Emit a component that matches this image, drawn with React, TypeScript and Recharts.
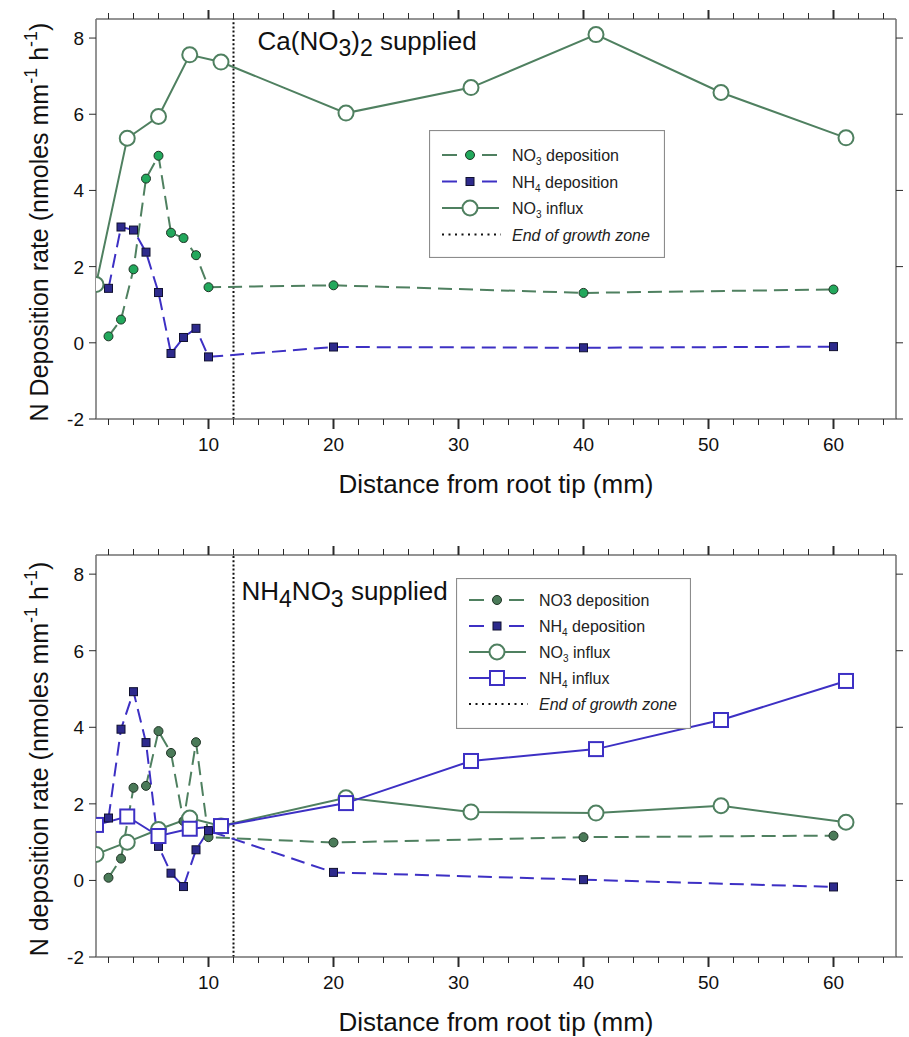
import React from 'react';
import { LineChart, Line, XAxis, YAxis, ReferenceLine, Legend } from 'recharts';

// ---------- data ----------
const depositionX = [2, 3, 4, 5, 6, 7, 8, 9, 10, 20, 40, 60];
const influxX = [1, 3.5, 6, 8.5, 11, 21, 31, 41, 51, 61];

// Panel A: Ca(NO3)2 supplied
const caNO3Deposition = [0.17, 0.61, 1.93, 4.31, 4.91, 2.89, 2.75, 2.3, 1.46, 1.51, 1.31, 1.4];
const caNH4Deposition = [1.43, 3.04, 2.96, 2.38, 1.32, -0.28, 0.14, 0.38, -0.37, -0.11, -0.13, -0.1];
const caNO3Influx = [1.53, 5.37, 5.94, 7.56, 7.37, 6.03, 6.7, 8.09, 6.57, 5.38];

// Panel B: NH4NO3 supplied
const anNO3Deposition = [0.07, 0.57, 2.42, 2.47, 3.9, 3.33, 1.55, 3.61, 1.13, 0.99, 1.13, 1.17];
const anNH4Deposition = [1.63, 3.95, 4.93, 3.6, 0.89, 0.19, -0.16, 0.8, 1.3, 0.21, 0.02, -0.17];
const anNO3Influx = [0.68, 1.0, 1.33, 1.63, 1.42, 2.16, 1.79, 1.76, 1.95, 1.52];
const anNH4Influx = [1.45, 1.67, 1.16, 1.35, 1.42, 2.02, 3.12, 3.43, 4.19, 5.21];

const growthZoneEnd = 12;
const xDomain = [1, 65];
const yDomain = [-2, 8.5];
const xTicks = [2, 4, 6, 8, 10, 12, 14, 16, 18, 20, 22, 24, 26, 28, 30, 32, 34, 36, 38, 40, 42, 44, 46, 48, 50, 52, 54, 56, 58, 60, 62, 64];
const xMajorTicks = [10, 20, 30, 40, 50, 60];
const yTicks = [-2, 0, 2, 4, 6, 8];

const xTitle = 'Distance from root tip (mm)';
const topYTitle = 'N Deposition rate (nmoles mm';
const bottomYTitle = 'N deposition rate (nmoles mm';

const topLegendLabels = [
  ['NO', '3', ' deposition'],
  ['NH', '4', ' deposition'],
  ['NO', '3', ' influx'],
  ['End of growth zone', '', ''],
];
const bottomLegendLabels = [
  ['NO3 deposition', '', ''],
  ['NH', '4', ' deposition'],
  ['NO', '3', ' influx'],
  ['NH', '4', ' influx'],
  ['End of growth zone', '', ''],
];

const toPoints = (xs: number[], ys: number[]) => xs.map((x, i) => ({ x, y: ys[i] }));

// ---------- styles ----------
const FONT = '"Liberation Sans", Arial, Helvetica, sans-serif';
const AXIS = '#707070';
const TICK = '#2a2a2a';
const GREEN = '#4f8060';
const BLUE = '#3d30c4';
const BLUE_FILL = '#2d2a8c';
const DASH = '14 7';

// ---------- ticks ----------
const BottomTick = (props: any) => {
  const { x, y, payload } = props;
  const major = xMajorTicks.includes(payload.value);
  return (
    <g>
      <line x1={x} x2={x} y1={y} y2={y + (major ? 10 : 6)} stroke={TICK} strokeWidth={major ? 2 : 1} />
      {major && (
        <text x={x} y={y + 32} textAnchor="middle" fontSize={19} fontFamily={FONT} fill="#111">
          {payload.value}
        </text>
      )}
    </g>
  );
};
const TopTick = (props: any) => {
  const { x, y, payload } = props;
  const major = xMajorTicks.includes(payload.value);
  return <line x1={x} x2={x} y1={y} y2={y - (major ? 9 : 6)} stroke={TICK} strokeWidth={major ? 2 : 1} />;
};
const LeftTick = (props: any) => {
  const { x, y, payload } = props;
  return (
    <g>
      <line x1={x - 7} x2={x} y1={y} y2={y} stroke={TICK} strokeWidth={1} />
      <text x={x - 12} y={y + 7} textAnchor="end" fontSize={19} fontFamily={FONT} fill="#111">
        {payload.value}
      </text>
    </g>
  );
};
const RightTick = (props: any) => {
  const { x, y } = props;
  return <line x1={x} x2={x + 7} y1={y} y2={y} stroke={TICK} strokeWidth={1} />;
};

// ---------- dots ----------
const circleDot = (fill: string, stroke: string, r: number, sw: number) => (props: any) => {
  const { cx, cy, index } = props;
  if (cx == null || cy == null) return <g key={index} />;
  return <circle key={index} cx={cx} cy={cy} r={r} fill={fill} stroke={stroke} strokeWidth={sw} />;
};
const squareDot = (fill: string, stroke: string, s: number, sw: number) => (props: any) => {
  const { cx, cy, index } = props;
  if (cx == null || cy == null) return <g key={index} />;
  return <rect key={index} x={cx - s / 2} y={cy - s / 2} width={s} height={s} fill={fill} stroke={stroke} strokeWidth={sw} />;
};

// ---------- labels ----------
const XTitle = (props: any) => {
  const { viewBox } = props;
  return (
    <text x={viewBox.x + viewBox.width / 2} y={viewBox.y + 74} textAnchor="middle" fontSize={26} fontFamily={FONT} fill="#111">
      {xTitle}
    </text>
  );
};
const makeYTitle = (main: string) => (props: any) => {
  const { viewBox } = props;
  const cx = 48;
  const cy = viewBox.y + viewBox.height / 2 + 3;
  return (
    <text x={cx} y={cy} transform={`rotate(-90 ${cx} ${cy})`} textAnchor="middle" fontSize={25} fontFamily={FONT} fill="#111">
      {main}
      <tspan fontSize={18} dy={-11}>-1</tspan>
      <tspan dy={11}> h</tspan>
      <tspan fontSize={18} dy={-11}>-1</tspan>
      <tspan dy={11}>)</tspan>
    </text>
  );
};
const TopPanelTitle = (props: any) => {
  const { viewBox } = props;
  return (
    <text x={viewBox.x + 24} y={viewBox.y + 31} fontSize={26} fontFamily={FONT} fill="#111">
      Ca(NO<tspan fontSize={23} dy={6}>3</tspan>
      <tspan dy={-6}>)</tspan>
      <tspan fontSize={23} dy={6}>2</tspan>
      <tspan dy={-6}> supplied</tspan>
    </text>
  );
};
const BottomPanelTitle = (props: any) => {
  const { viewBox } = props;
  return (
    <text x={viewBox.x + 8} y={viewBox.y + 45} fontSize={26} fontFamily={FONT} fill="#111">
      NH<tspan fontSize={23} dy={7}>4</tspan>
      <tspan dy={-7}>NO</tspan>
      <tspan fontSize={23} dy={7}>3</tspan>
      <tspan dy={-7}> supplied</tspan>
    </text>
  );
};

// ---------- legend ----------
type SymbolKind = 'depCircle' | 'depSquare' | 'influxCircle' | 'influxSquare' | 'dotted';
const drawSymbol = (kind: SymbolKind, cy: number, depCircleFill: string) => {
  const cx = 41;
  if (kind === 'dotted') {
    return <line x1={13} x2={72} y1={cy} y2={cy} stroke="#111" strokeWidth={2} strokeDasharray="2 4.5" />;
  }
  if (kind === 'depCircle' || kind === 'depSquare') {
    const color = kind === 'depCircle' ? GREEN : BLUE;
    return (
      <g>
        <line x1={13} x2={28} y1={cy} y2={cy} stroke={color} strokeWidth={2} />
        <line x1={53} x2={68} y1={cy} y2={cy} stroke={color} strokeWidth={2} />
        {kind === 'depCircle' ? (
          <circle cx={cx} cy={cy} r={4.5} fill={depCircleFill} stroke="#1f3325" strokeWidth={1} />
        ) : (
          <rect x={cx - 4} y={cy - 4} width={8} height={8} fill={BLUE_FILL} stroke="#101030" strokeWidth={1} />
        )}
      </g>
    );
  }
  const color = kind === 'influxCircle' ? GREEN : BLUE;
  return (
    <g>
      <line x1={13} x2={70} y1={cy} y2={cy} stroke={color} strokeWidth={2} />
      {kind === 'influxCircle' ? (
        <circle cx={cx} cy={cy} r={7.5} fill="#fff" stroke={color} strokeWidth={2} />
      ) : (
        <rect x={cx - 7} y={cy - 7} width={14} height={14} fill="#fff" stroke={color} strokeWidth={2} />
      )}
    </g>
  );
};

const makeLegend = (labels: string[][], kinds: SymbolKind[], w: number, h: number, firstRow: number, gap: number, depFill: string) => () => (
  <svg width={w} height={h} style={{ display: 'block' }}>
    <rect x={0.5} y={0.5} width={w - 1} height={h - 1} fill="#fff" stroke="#8c8c8c" strokeWidth={1.2} />
    {labels.map((lab, i) => {
      const cy = firstRow + i * gap;
      const italic = kinds[i] === 'dotted';
      return (
        <g key={i}>
          {drawSymbol(kinds[i], cy, depFill)}
          <text x={83} y={cy + 6} fontSize={16} fontFamily={FONT} fontStyle={italic ? 'italic' : 'normal'} fill="#222">
            {lab[0]}
            {lab[1] && (
              <tspan fontSize={10} dy={4}>
                {lab[1]}
              </tspan>
            )}
            {lab[1] && <tspan dy={-4}>{lab[2]}</tspan>}
          </text>
        </g>
      );
    })}
  </svg>
);

// ---------- panels ----------
const commonAxes = (topHeight: number, bottomHeight: number, yTitle: any, panelTitle: any) => [
  <XAxis
    key="xb"
    xAxisId="b"
    dataKey="x"
    type="number"
    domain={xDomain}
    ticks={xTicks}
    interval={0}
    tickSize={0}
    tickMargin={0}
    tickLine={false}
    tick={<BottomTick />}
    height={bottomHeight}
    axisLine={{ stroke: AXIS, strokeWidth: 1.5 }}
    allowDataOverflow
    label={<XTitle />}
  />,
  <XAxis
    key="xt"
    xAxisId="t"
    orientation="top"
    dataKey="x"
    type="number"
    domain={xDomain}
    ticks={xTicks}
    interval={0}
    tickSize={0}
    tickMargin={0}
    tickLine={false}
    tick={<TopTick />}
    height={topHeight}
    axisLine={{ stroke: AXIS, strokeWidth: 1.5 }}
    allowDataOverflow
  />,
  <YAxis
    key="yl"
    yAxisId="l"
    type="number"
    domain={yDomain}
    ticks={yTicks}
    interval={0}
    tickSize={0}
    tickMargin={0}
    tickLine={false}
    tick={<LeftTick />}
    width={96}
    axisLine={{ stroke: AXIS, strokeWidth: 1.5 }}
    allowDataOverflow
    label={yTitle}
  />,
  <YAxis
    key="yr"
    yAxisId="r"
    orientation="right"
    type="number"
    domain={yDomain}
    ticks={yTicks}
    interval={0}
    tickSize={0}
    tickMargin={0}
    tickLine={false}
    tick={<RightTick />}
    width={13}
    axisLine={{ stroke: AXIS, strokeWidth: 1.5 }}
    allowDataOverflow
  />,
  <ReferenceLine
    key="ref"
    x={growthZoneEnd}
    xAxisId="b"
    yAxisId="l"
    stroke="#111"
    strokeWidth={2}
    strokeDasharray="2 2.2"
    label={panelTitle}
  />,
];

const TopLegend = makeLegend(topLegendLabels, ['depCircle', 'depSquare', 'influxCircle', 'dotted'], 236, 128, 25, 26.5, '#22a85c');
const BottomLegend = makeLegend(
  bottomLegendLabels,
  ['depCircle', 'depSquare', 'influxCircle', 'influxSquare', 'dotted'],
  235,
  151,
  22,
  26,
  '#4a7a58'
);

export default function App() {
  return (
    <div style={{ position: 'absolute', left: 0, top: 0, width: 909, height: 1037, background: '#fff', fontFamily: FONT }}>
      <div style={{ position: 'absolute', left: 0, top: 0 }}>
        <LineChart width={909} height={520} margin={{ top: 0, right: 0, bottom: 0, left: 0 }}>
          {commonAxes(19, 101, <Label0 render={makeYTitle(topYTitle)} />, <TopPanelTitle />)}
          <Line
            xAxisId="b"
            yAxisId="l"
            data={toPoints(depositionX, caNO3Deposition)}
            dataKey="y"
            type="linear"
            stroke={GREEN}
            strokeWidth={2}
            strokeDasharray={DASH}
            dot={circleDot('#22a85c', '#1f3325', 4.5, 1)}
            activeDot={false}
            isAnimationActive={false}
          />
          <Line
            xAxisId="b"
            yAxisId="l"
            data={toPoints(depositionX, caNH4Deposition)}
            dataKey="y"
            type="linear"
            stroke={BLUE}
            strokeWidth={2}
            strokeDasharray={DASH}
            dot={squareDot(BLUE_FILL, '#101030', 8, 1)}
            activeDot={false}
            isAnimationActive={false}
          />
          <Line
            xAxisId="b"
            yAxisId="l"
            data={toPoints(influxX, caNO3Influx)}
            dataKey="y"
            type="linear"
            stroke={GREEN}
            strokeWidth={2}
            dot={circleDot('#fff', GREEN, 7.5, 2)}
            activeDot={false}
            isAnimationActive={false}
          />
          <Legend
            content={<TopLegend />}
            layout="horizontal"
            verticalAlign="middle"
            align="center"
            wrapperStyle={{ left: 429, top: 130, width: 236, height: 128 }}
          />
        </LineChart>
      </div>
      <div style={{ position: 'absolute', left: 0, top: 520 }}>
        <LineChart width={909} height={517} margin={{ top: 0, right: 0, bottom: 0, left: 0 }}>
          {commonAxes(35, 80, <Label0 render={makeYTitle(bottomYTitle)} />, <BottomPanelTitle />)}
          <Line
            xAxisId="b"
            yAxisId="l"
            data={toPoints(depositionX, anNO3Deposition)}
            dataKey="y"
            type="linear"
            stroke={GREEN}
            strokeWidth={2}
            strokeDasharray={DASH}
            dot={circleDot('#4a7a58', '#1f3325', 4.5, 1)}
            activeDot={false}
            isAnimationActive={false}
          />
          <Line
            xAxisId="b"
            yAxisId="l"
            data={toPoints(depositionX, anNH4Deposition)}
            dataKey="y"
            type="linear"
            stroke={BLUE}
            strokeWidth={2}
            strokeDasharray={DASH}
            dot={squareDot(BLUE_FILL, '#101030', 8, 1)}
            activeDot={false}
            isAnimationActive={false}
          />
          <Line
            xAxisId="b"
            yAxisId="l"
            data={toPoints(influxX, anNO3Influx)}
            dataKey="y"
            type="linear"
            stroke={GREEN}
            strokeWidth={2}
            dot={circleDot('#fff', GREEN, 7.5, 2)}
            activeDot={false}
            isAnimationActive={false}
          />
          <Line
            xAxisId="b"
            yAxisId="l"
            data={toPoints(influxX, anNH4Influx)}
            dataKey="y"
            type="linear"
            stroke={BLUE}
            strokeWidth={2}
            dot={squareDot('#fff', BLUE, 14, 2)}
            activeDot={false}
            isAnimationActive={false}
          />
          <Legend
            content={<BottomLegend />}
            layout="horizontal"
            verticalAlign="middle"
            align="center"
            wrapperStyle={{ left: 456, top: 58, width: 235, height: 151 }}
          />
        </LineChart>
      </div>
    </div>
  );
}

// Label element wrapper: receives viewBox from the axis and delegates drawing
function Label0(props: any) {
  const { render, ...rest } = props;
  return render(rest);
}
